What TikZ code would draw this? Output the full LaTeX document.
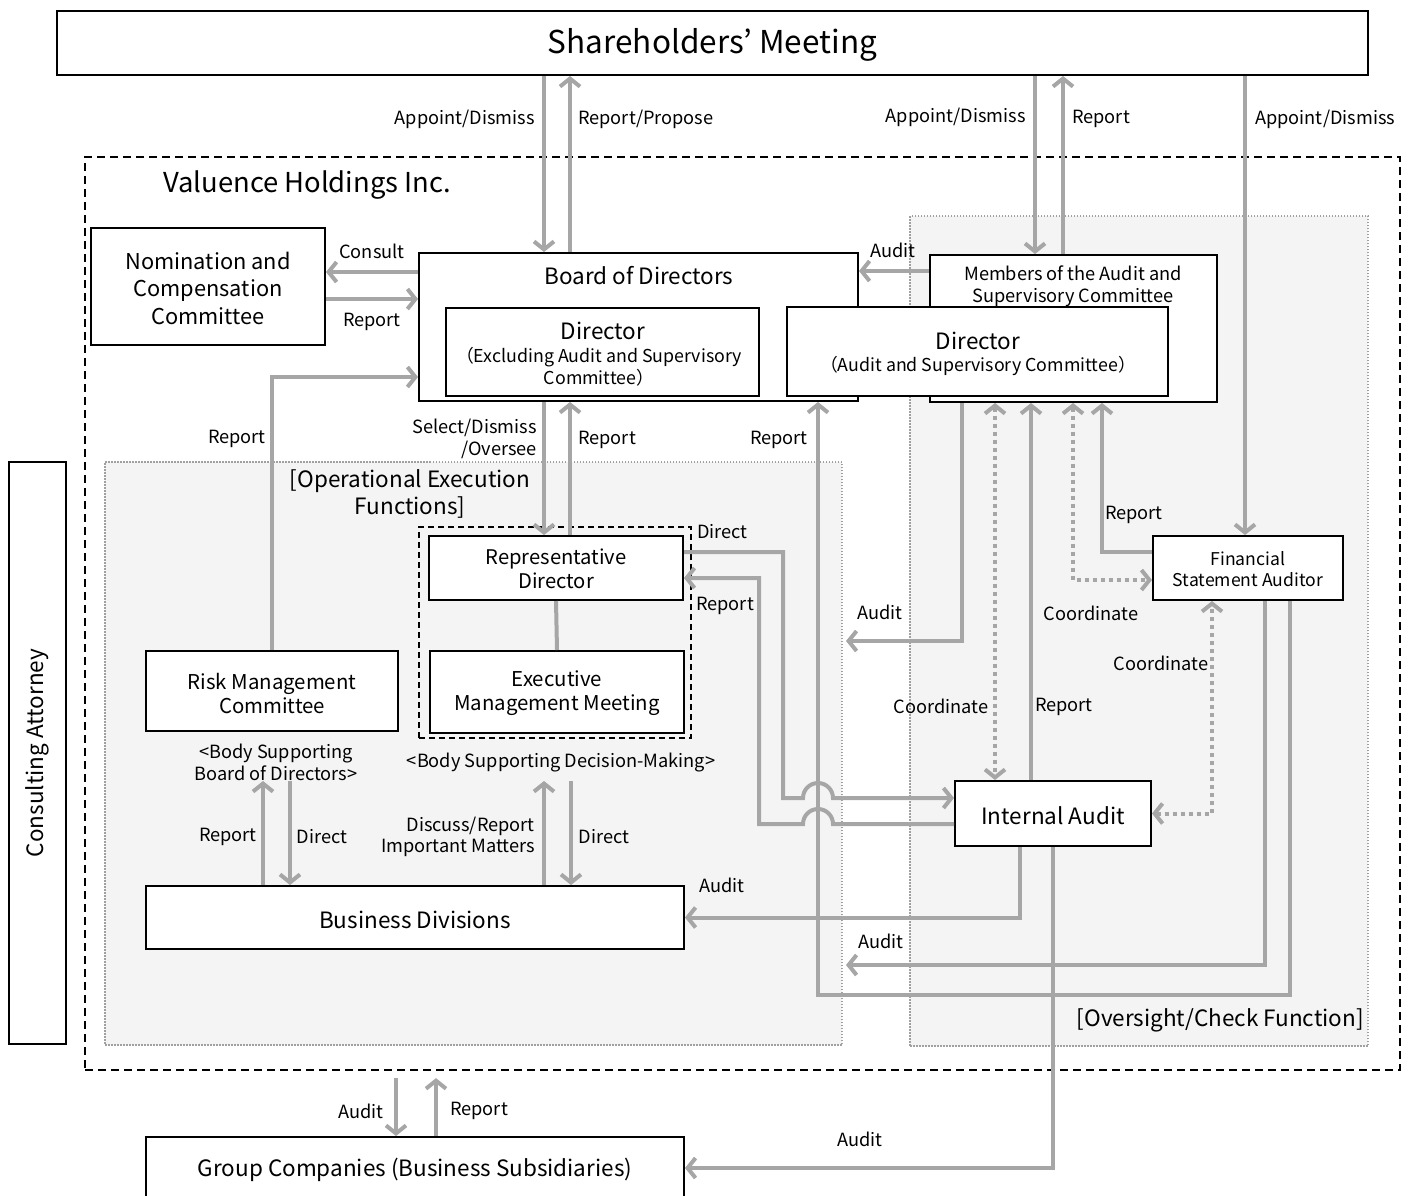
\documentclass[tikz,border=0pt]{standalone}
\usepackage{fontspec}
\setmainfont{Noto Sans CJK JP}
\usetikzlibrary{arrows.meta,fit}
\definecolor{ag}{HTML}{A6A6A6}
\definecolor{rg}{HTML}{F4F4F4}
\definecolor{rb}{HTML}{A0A0A0}
\newcommand{\fsz}[2]{\fontsize{#1}{#2}\selectfont}
\tikzset{
  box/.style={draw=black, line width=2pt, fill=white, inner sep=0pt},
  region/.style={draw=rb, line width=1.2pt, dash pattern=on 1.5pt off 1.5pt, fill=rg, inner sep=0pt},
  outerbox/.style={draw=black, line width=2.2pt, dash pattern=on 8pt off 5pt, inner sep=0pt},
  ln/.style={draw=ag, line width=4pt},
  arr/.style={ln, -{Straight Barb[length=8pt,width=20pt]}},
  darr/.style={ln, dash pattern=on 4pt off 4pt, {Straight Barb[length=8pt,width=20pt]}-{Straight Barb[length=8pt,width=20pt]}},
  txt/.style={inner sep=0pt, align=center, yshift=-2pt},
  lbl/.style={txt, font=\fsz{18.2}{22}},
  big/.style={txt, font=\fsz{22.5}{27}},
  mid/.style={txt, font=\fsz{20.4}{24}},
}
\begin{document}
\begin{tikzpicture}[x=1pt,y=-1pt]
\useasboundingbox (0,0) rectangle (1408,1195);
% containers
\node[outerbox, fit={(85,157) (1400,1070)}] (vh) {};
\node[region, fit={(105,462) (842,1045)}] (ops) {};
\node[region, fit={(910,216) (1368,1046)}] (ovs) {};
\node[txt, font=\fsz{27.4}{30}, anchor=west] (vht) at (163,183) {Valuence Holdings Inc.};
\node[big] (opst) at (410,492) {[Operational Execution\\Functions]};
\node[big, anchor=east] (ovst) at (1364,1018) {[Oversight/Check Function]};
% main boxes
\node[box, fit={(57,11) (1368,75)}] (sh) {};
\node[txt, font=\fsz{31.5}{34}] (sht) at (sh.center) {Shareholders’ Meeting};
\node[box, fit={(9,462) (66,1044)}] (ca) {};
\node[big, rotate=90, yshift=0pt, xshift=2pt] (cat) at (ca.center) {Consulting Attorney};
\node[box, fit={(91,228) (325,345)}] (nom) {};
\node[big, font=\fsz{21.8}{27.5}] (nomt) at (208,286) {Nomination and\\Compensation\\Committee};
\node[box, fit={(419,253) (858,401)}] (board) {};
\node[big] (boardt) at (639,274) {Board of Directors};
\node[box, fit={(446,308) (759,396)}] (dirx) {};
\node[big] (dirxt) at (603,329) {Director};
\node[lbl, font=\fsz{17.8}{22}] (dirxs) at (599,365) {（Excluding Audit and Supervisory\\Committee）};
\node[box, fit={(930,255) (1217,402)}] (mem) {};
\node[lbl] (memt) at (1073,284) {Members of the Audit and\\Supervisory Committee};
\node[box, fit={(787,307) (1168,396)}] (dira) {};
\node[big] (dirat) at (978,339) {Director};
\node[lbl, font=\fsz{17.8}{22}] (diras) at (978,364) {（Audit and Supervisory Committee）};
\node[outerbox, line width=2pt, dash pattern=on 6pt off 4pt, fit={(419,527) (691,738)}] (dm) {};
\node[box, fit={(429,536) (683,600)}] (rep) {};
\node[mid, font=\fsz{20.2}{24}] (rept) at (556,567) {Representative\\Director};
\node[box, fit={(430,651) (684,733)}] (exe) {};
\node[mid] (exet) at (557,691) {Executive\\Management Meeting};
\node[lbl] (dmt) at (561,761) {<Body Supporting Decision-Making>};
\node[box, fit={(146,651) (398,731)}] (risk) {};
\node[mid] (riskt) at (272,691) {Risk Management\\Committee};
\node[lbl] (rmt) at (276,760) {<Body Supporting\\Board of Directors>};
\node[box, fit={(146,886) (684,949)}] (bus) {};
\node[big] (bust) at (bus.center) {Business Divisions};
\node[box, fit={(1153,536) (1343,600)}] (fsa) {};
\node[lbl, font=\fsz{17.6}{21}] (fsat) at (1248,567.5) {Financial\\Statement Auditor};
\node[box, fit={(955,781) (1151,846)}] (ia) {};
\node[big] (iat) at (ia.center) {Internal Audit};
\node[box, fit={(146,1137) (684,1215)}] (grp) {};
\node[big] (grpt) at (415,1168) {Group Companies (Business Subsidiaries)};
% helper coordinates
\coordinate (k1) at (818,995);
\coordinate (au1) at (846,965);
\coordinate (au2) at (846,641);
\coordinate (r1) at (263,781);
\coordinate (r2) at (290,781);
\coordinate (r3) at (544,781);
\coordinate (r4) at (571,781);
% connectors
\draw[arr] (sh.south -| 544,0) -- (board.north -| 544,0);
\draw[arr] (board.north -| 570,0) -- (sh.south -| 570,0);
\draw[arr] (sh.south -| 1035,0) -- (mem.north -| 1035,0);
\draw[arr] (mem.north -| 1063,0) -- (sh.south -| 1063,0);
\draw[arr] (sh.south -| 1245,0) -- (fsa.north -| 1245,0);
\draw[arr] (board.west |- 0,272) -- (nom.east |- 0,272);
\draw[arr] (nom.east |- 0,299) -- (board.west |- 0,299);
\draw[arr] (mem.west |- 0,271) -- (board.east |- 0,271);
\draw[arr] (risk.north) |- (board.west |- 0,377);
\draw[arr] (board.south -| 544,0) -- (rep.north -| 544,0);
\draw[arr] (rep.north -| 570,0) -- (board.south -| 570,0);
\draw[ln] (rep.south) -- (exe.north);
\draw[arr] (fsa.south -| 1290,0) |- (k1) -- (board.south -| k1);
\draw[arr] (fsa.south -| 1265,0) |- (au1);
\draw[arr] (mem.south -| 962,0) |- (au2);
\draw[darr] (mem.south -| 995,0) -- (ia.north -| 995,0);
\draw[arr] (ia.north -| 1031,0) -- (mem.south -| 1031,0);
\draw[darr] (mem.south -| 1073,0) |- (fsa.west |- 0,580);
\draw[arr] (fsa.west |- 0,552) -| (mem.south -| 1102,0);
\draw[darr] (ia.east) -| (fsa.south -| 1212,0);
\draw[arr] (rep.east |- 0,552) -| (783,798) -- (803,798) arc[start angle=180,end angle=0,radius=15pt] -- (ia.west |- 0,798);
\draw[arr] (ia.west |- 0,824) -- (833,824) arc[start angle=0,end angle=180,radius=15pt] -- (759,824) |- (rep.east |- 0,578);
\draw[arr] (ia.south -| 1020,0) |- (bus.east);
\draw[arr] (ia.south -| 1053,0) |- (grp.east |- 0,1168);
\draw[arr] (bus.north -| r1) -- (r1);
\draw[arr] (r2) -- (bus.north -| r2);
\draw[arr] (bus.north -| r3) -- (r3);
\draw[arr] (r4) -- (bus.north -| r4);
\draw[arr, shorten <=7pt] (vh.south -| 396,0) -- (grp.north -| 396,0);
\draw[arr, shorten >=7pt] (grp.north -| 436,0) -- (vh.south -| 436,0);
% labels
\node[lbl, anchor=east] (l1) at (535,117) {Appoint/Dismiss};
\node[lbl, anchor=west] (l2) at (578,117) {Report/Propose};
\node[lbl, anchor=east] (l3) at (1026,115) {Appoint/Dismiss};
\node[lbl, anchor=west] (l4) at (1072,117) {Report};
\node[lbl, anchor=west] (l5) at (1255,117) {Appoint/Dismiss};
\node[lbl] (l6) at (372,249) {Consult};
\node[lbl] (l7) at (372,320) {Report};
\node[lbl] (l8) at (893,248) {Audit};
\node[lbl] (l9) at (237,437) {Report};
\node[lbl, anchor=east, align=right] (l10) at (537,437) {Select/Dismiss\\/Oversee};
\node[lbl, anchor=west] (l11) at (578,438) {Report};
\node[lbl] (l12) at (779,438) {Report};
\node[lbl, anchor=west] (l13) at (697,530) {Direct};
\node[lbl, anchor=west] (l14) at (696,604) {Report};
\node[lbl] (l15) at (880,610) {Audit};
\node[lbl] (l16) at (941,704) {Coordinate};
\node[lbl] (l17) at (1064,705) {Report};
\node[lbl] (l18) at (1091,611) {Coordinate};
\node[lbl] (l19) at (1134,513) {Report};
\node[lbl] (l20) at (1161,661) {Coordinate};
\node[lbl] (l21) at (722,883) {Audit};
\node[lbl] (l22) at (881,939) {Audit};
\node[lbl] (l23) at (860,1137) {Audit};
\node[lbl] (l24) at (228,835) {Report};
\node[lbl] (l25) at (322,835) {Direct};
\node[lbl, anchor=east, align=right, font=\fsz{18.2}{21}] (l26) at (535,835) {Discuss/Report\\Important Matters};
\node[lbl] (l27) at (604,835) {Direct};
\node[lbl, anchor=east] (l28) at (384,1109) {Audit};
\node[lbl, anchor=west] (l29) at (450,1109) {Report};
\end{tikzpicture}
\end{document}
